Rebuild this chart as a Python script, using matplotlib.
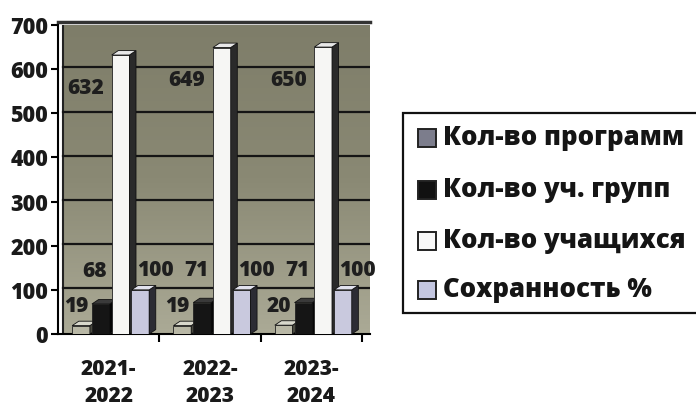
import numpy as np
import matplotlib.pyplot as plt
from matplotlib.patches import Polygon, Rectangle
from matplotlib.colors import LinearSegmentedColormap

plt.rcParams['font.family'] = ['Open Sans', 'DejaVu Sans']
plt.rcParams['font.weight'] = 'heavy'

years = ['2021-\n2022', '2022-\n2023', '2023-\n2024']
series_names = ['Кол-во программ', 'Кол-во уч. групп', 'Кол-во учащихся', 'Сохранность %']
programs = [19, 19, 20]
groups = [68, 71, 71]
students = [632, 649, 650]
retention = [100, 100, 100]

values = [programs, groups, students, retention]
front_colors = ['#b9b8a6', '#151515', '#f6f6f4', '#c9c9de']
side_colors = ['#4a4a40', '#050505', '#2a2a2a', '#2c2c34']
top_colors = ['#d8d8cc', '#3a3a3a', '#e8e8e8', '#e2e2ee']
legend_colors = ['#7c7d8c', '#111111', '#f8f8f8', '#c3c6e0']
# label offsets in pixels (dx, dy) relative to top centre of each bar
label_offsets = [(-5, 19), (-6, 32), (-35, -33), (15, 19)]
fw = 'heavy'

fig = plt.figure(figsize=(6.96, 4.08), dpi=100)
W, H = 696, 408
ax = fig.add_axes([58 / W, 1 - 334 / H, 312 / W, 309 / H])

ymax = 700
xmin, xmax = -0.5, 2.58
ax.set_xlim(xmin, xmax)
ax.set_ylim(0, ymax)

# background wall gradient
grad = np.linspace(0, 1, 256).reshape(-1, 1)
wall = LinearSegmentedColormap.from_list('wall', ['#abaa96', '#8a8974', '#7e7d69'])
ax.imshow(grad, extent=[xmin + 0.05, xmax, 0, ymax + 4], aspect='auto',
          cmap=wall, origin='lower', zorder=0)
ax.plot([xmin + 0.05, xmin + 0.05], [0, ymax], color='#222', lw=1.5, zorder=1)

for v in range(100, ymax + 1, 100):
    ax.plot([xmin + 0.05, xmax], [v + 4, v + 4], color='#151515', lw=1.6, zorder=1)

x = np.arange(len(years))
bw = 0.175
step = 0.195
dx = 0.065
dy = 10
offs = [-1.5 * step, -0.5 * step, 0.5 * step, 1.5 * step]

for i, vals in enumerate(values):
    xs = x + offs[i] + 0.02
    bars = ax.bar(xs, vals, width=bw, color=front_colors[i], edgecolor='#222',
                  linewidth=0.6, zorder=3 + i)
    for b in bars:
        x0 = b.get_x()
        x1 = x0 + b.get_width()
        h = b.get_height()
        side = Polygon([(x1, 0), (x1 + dx, dy), (x1 + dx, h + dy), (x1, h)],
                       closed=True, facecolor=side_colors[i], edgecolor='#111',
                       lw=0.6, zorder=3 + i)
        top = Polygon([(x0, h), (x0 + dx, h + dy), (x1 + dx, h + dy), (x1, h)],
                      closed=True, facecolor=top_colors[i], edgecolor='#111',
                      lw=0.6, zorder=3 + i)
        ax.add_patch(side)
        ax.add_patch(top)
        ox, oy = label_offsets[i]
        ax.annotate(str(int(h)), (x0 + b.get_width() / 2, h), xytext=(ox * 0.72, oy * 0.72),
                    textcoords='offset points', ha='center', va='center',
                    fontsize=15, fontweight=fw, color='#1e1e1e', zorder=10,
                    annotation_clip=False)

ax.set_yticks(range(0, ymax + 1, 100))
ax.set_yticklabels([str(v) for v in range(0, ymax + 1, 100)], fontsize=15.5,
                   fontweight=fw, color='#1a1a1a')
ax.set_xticks(x)
ax.set_xticklabels(years, fontsize=15, fontweight=fw, color='#1a1a1a',
                   linespacing=1.35)
ax.set_xticks([0.5, 1.5, 2.5], minor=True)
ax.tick_params(axis='x', which='major', length=0, pad=18)
ax.tick_params(axis='x', which='minor', length=6, width=1.5, direction='out')
ax.tick_params(axis='y', length=5, width=1.5, direction='out', pad=2)

for s in ['top', 'right']:
    ax.spines[s].set_visible(False)
ax.spines['left'].set_linewidth(1.5)
ax.spines['bottom'].set_linewidth(1.5)
ax.plot([xmin, xmax], [ymax + 6, ymax + 6], color='#333', lw=2.5, zorder=2, clip_on=False)

# legend box (cut at right edge like the reference)
lx0, ly0, ly1 = 403, 113, 313
fig.patches.append(Rectangle((lx0 / W, 1 - ly1 / H), (W + 10 - lx0) / W, (ly1 - ly0) / H,
                             transform=fig.transFigure, facecolor='white',
                             edgecolor='#111', lw=1.6, zorder=1))
rows = [138, 190, 241, 290]
for name, col, yy in zip(series_names, legend_colors, rows):
    fig.patches.append(Rectangle((418 / W, 1 - (yy + 9) / H), 18 / W, 18 / H,
                                 transform=fig.transFigure, facecolor=col,
                                 edgecolor='#222', lw=1.4, zorder=2))
    fig.text(443 / W, 1 - yy / H, name, fontsize=18.5, fontweight=fw,
             color='#151515', va='center', ha='left', zorder=3)

fig.savefig('out.png', dpi=100)
